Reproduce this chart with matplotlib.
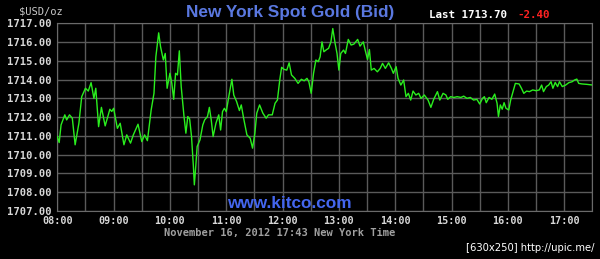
import matplotlib
matplotlib.use("Agg")
import matplotlib.pyplot as plt

# minutes after 08:00 and bid price
minutes = [0, 2, 4, 8, 10, 13, 16, 19, 23, 26, 30, 33, 36, 39, 41, 44, 47, 51, 56, 58,
           60, 64, 67, 71, 74, 78, 81, 86, 90, 93, 96, 100, 103, 105, 108, 110, 113, 115, 117, 120,
           122, 124, 126, 128, 130, 132, 135, 137, 139, 141, 143, 145, 146, 147.5, 149, 152, 155, 157, 160, 162,
           164, 166, 169, 172, 174, 176, 178, 180, 183, 186, 188, 191, 194, 196, 198.5, 202, 205.5, 208, 210.5, 212.5,
           215.5, 219, 222.5, 225, 229, 232, 234.5, 237, 239, 241.5, 244.5, 247, 249.5, 253, 256.5, 260, 263, 266, 268, 270.5,
           273, 275.5, 278, 280, 282, 284, 287, 289, 291.5, 293.5, 296, 298, 300, 302, 305, 307, 310, 313, 316, 320,
           322.5, 326, 328, 330.5, 332.5, 334.5, 337.5, 341, 344, 346.5, 349.5, 353, 356, 358, 361, 363, 366, 369, 371.5, 374,
           376.5, 379, 382, 385, 387.5, 391, 395, 398, 401, 405, 407.5, 411, 414, 416, 419, 422.5, 426, 430, 433, 436.5,
           440, 443.5, 447, 450, 453, 455, 457, 460, 463, 466, 468.5, 470, 472, 474, 476, 478, 481, 483, 485.5, 488,
           492, 494.5, 497, 500, 503, 506.5, 510, 513.5, 516, 518, 521, 523.5, 526, 528, 530.5, 533, 535, 538, 541.5, 545,
           548.5, 551, 553.5, 555.5, 559, 564, 569]
prices = [1710.96, 1710.64, 1711.58, 1712.12, 1711.85, 1712.12, 1711.94, 1710.52, 1711.67, 1713.09,
          1713.54, 1713.39, 1713.84, 1713.00, 1713.54, 1711.49, 1712.52, 1711.53, 1712.42, 1712.30,
          1712.47, 1711.40, 1711.67, 1710.52, 1711.05, 1710.61, 1711.05, 1711.62, 1710.69, 1711.05,
          1710.74, 1712.38, 1713.27, 1715.22, 1716.50, 1715.76, 1715.05, 1715.40, 1713.54, 1714.34,
          1713.80, 1712.95, 1714.34, 1714.25, 1715.54, 1713.63, 1712.03, 1711.14, 1712.03, 1711.90,
          1710.96, 1709.36, 1708.38, 1709.36, 1710.43, 1710.78, 1711.58, 1711.85, 1712.03, 1712.52,
          1711.85, 1710.96, 1711.67, 1712.12, 1711.31, 1712.29, 1712.47, 1712.29, 1713.18, 1714.02,
          1713.18, 1712.83, 1712.35, 1712.65, 1711.94, 1711.05, 1710.87, 1710.34, 1711.14, 1712.21,
          1712.65, 1712.21, 1711.94, 1712.12, 1712.12, 1712.74, 1712.91, 1713.98, 1714.66, 1714.55,
          1714.51, 1714.90, 1714.25, 1714.07, 1713.80, 1714.02, 1713.94, 1714.07, 1713.89, 1713.27,
          1714.34, 1715.05, 1714.96, 1715.22, 1716.02, 1715.49, 1715.61, 1715.67, 1716.02, 1716.73,
          1715.93, 1715.40, 1714.51, 1715.40, 1715.58, 1715.40, 1716.15, 1715.85, 1715.90, 1716.15,
          1715.79, 1716.02, 1715.58, 1715.08, 1715.61, 1714.51, 1714.60, 1714.42, 1714.60, 1714.87,
          1714.60, 1714.90, 1714.60, 1714.34, 1714.69, 1714.07, 1713.71, 1713.98, 1713.09, 1713.27,
          1712.91, 1713.39, 1713.18, 1713.27, 1713.00, 1713.18, 1712.91, 1712.52, 1712.95, 1713.36,
          1712.91, 1713.27, 1713.18, 1712.95, 1713.09, 1713.05, 1713.09, 1713.05, 1713.12, 1713.00,
          1713.05, 1712.91, 1712.95, 1712.70, 1713.00, 1713.09, 1712.77, 1713.05, 1712.95, 1713.23,
          1712.74, 1712.03, 1712.65, 1712.42, 1712.77, 1712.47, 1712.38, 1712.91, 1713.36, 1713.80,
          1713.77, 1713.54, 1713.27, 1713.39, 1713.36, 1713.45, 1713.41, 1713.45, 1713.71, 1713.36,
          1713.63, 1713.71, 1713.89, 1713.54, 1713.85, 1713.63, 1713.89, 1713.63, 1713.71, 1713.84,
          1713.89, 1713.98, 1714.03, 1713.80, 1713.77, 1713.75, 1713.72]

hour_labels = ["08:00", "09:00", "10:00", "11:00", "12:00", "13:00", "14:00", "15:00", "16:00", "17:00"]
price_ticks = [1707, 1708, 1709, 1710, 1711, 1712, 1713, 1714, 1715, 1716, 1717]

title = "New York Spot Gold (Bid)"
last_text = "Last 1713.70"
change_text = "-2.40"
date_text = "November 16, 2012 17:43 New York Time"

mono = "DejaVu Sans Mono"

fig = plt.figure(figsize=(6.0, 2.59), dpi=100, facecolor="black")
ax = fig.add_axes([0.0955, 0.1865, 0.8917, 0.7228])
ax.set_facecolor("black")

ax.plot(minutes, prices, color="#2aee1e", linewidth=1.0, zorder=3)

ax.set_xlim(0, 570)
ax.set_ylim(1707, 1717)
ax.set_xticks(range(0, 571, 30), minor=True)
ax.set_xticks(range(0, 571, 60))
ax.set_xticklabels(hour_labels)
ax.set_yticks(price_ticks)
ax.set_yticklabels([f"{p:.2f}" for p in price_ticks])
ax.grid(True, which="both", color="#5a5a5a", linewidth=1.0, zorder=1)
ax.tick_params(which="both", length=0, colors="#d8d8d8")
ax.tick_params(axis="y", pad=4)
ax.tick_params(axis="x", pad=4)
for lbl in ax.get_yticklabels():
    lbl.set_fontfamily(mono)
    lbl.set_fontsize(7.6)
    lbl.set_fontweight("bold")
for lbl in ax.get_xticklabels():
    lbl.set_fontfamily(mono)
    lbl.set_fontsize(7.3)
    lbl.set_fontweight("bold")
for sp in ax.spines.values():
    sp.set_color("#6a6a6a")

fig.text(19 / 600, 1 - 11 / 259, "$USD/oz", family=mono, fontsize=7.5, color="#c8c8c8",
         ha="left", va="center")
fig.text(290 / 600, 1 - 12 / 259, title, family="Liberation Sans", fontweight="bold",
         fontsize=12.4, color="#5a78e0", ha="center", va="center")
fig.text(429 / 600, 1 - 15 / 259, last_text, family=mono, fontweight="bold", fontsize=7.8,
         color="white", ha="left", va="center")
fig.text(517 / 600, 1 - 15 / 259, change_text, family=mono, fontweight="bold", fontsize=7.8,
         color="#ff2222", ha="left", va="center")
fig.text(289.5 / 600, 1 - 203 / 259, "www.kitco.com", family="Liberation Sans", fontweight="bold",
         fontsize=12.4, color="#4466ee", ha="center", va="center")
fig.text(280 / 600, 1 - 233 / 259, date_text, family=mono, fontsize=7.5, fontweight="bold",
         color="#a0a0a0", ha="center", va="center")
fig.text(595 / 600, 1 - 248 / 259, "[630x250] http://upic.me/", family="DejaVu Sans",
         fontsize=7.2, color="white", ha="right", va="center")

fig.savefig("out.png", dpi=100, facecolor="black")
